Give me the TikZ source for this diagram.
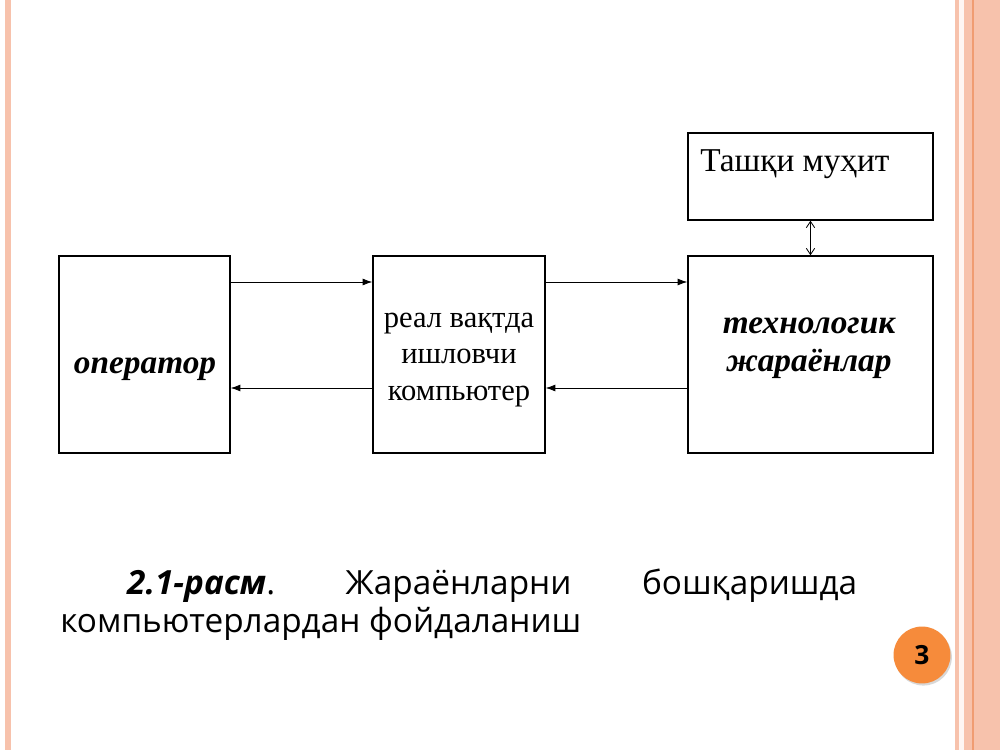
\documentclass[tikz,border=0pt]{standalone}
\usepackage{fontspec}
\setmainfont{Liberation Serif}
\newfontfamily\capfont{Open Sans}
\usetikzlibrary{arrows.meta,shadows}
\definecolor{slidepink}{HTML}{F7C2AC}
\definecolor{slideline}{HTML}{F09C72}
\definecolor{numorange}{HTML}{F68B3B}
\tikzset{
  box/.style={draw, line width=1pt, inner sep=0pt},
  flow/.style={-{Latex[length=7pt,width=5pt]}, line width=0.6pt},
  boldtext/.style={font=\fontsize{24}{27.5}\selectfont\bfseries\itshape, align=center},
}

\begin{document}
\begin{tikzpicture}[x=0.72pt,y=-0.72pt]
                \useasboundingbox (0,0) rectangle (1000,750);
                \fill[white] (0,0) rectangle (1000,750);
                
                \fill[slidepink] (5,0) rectangle (11,750);
                \fill[slidepink] (955,0) rectangle (1000,750);
                \fill[white!85!slidepink] (959,0) rectangle (964,750);
                \fill[slideline] (972,0) rectangle (974,750);
                
                \node[box, minimum width=123.1pt, minimum height=141.8pt] (oper) at (144.5,354.5) {};
                \node[box, minimum width=123.8pt, minimum height=141.8pt] (comp) at (459,354.5) {};
                \node[box, minimum width=176.4pt, minimum height=141.8pt] (tech) at (810.5,354.5) {};
                \node[box, minimum width=176.4pt, minimum height=62.6pt] (env) at (810.5,176.5) {};
                
                \node[boldtext] (opertext) at (145,369) {оператор};
                \node[font=\fontsize{22}{26.6}\selectfont, align=center] (comptext) at (459,360) {реал вақтда\\ишловчи\\компьютер};
                \node[boldtext] (techtext) at (809,348) {технологик\\жараёнлар};
                \node[font=\fontsize{24}{28}\selectfont, anchor=base west, inner sep=0pt] (envtext) at (700,172) {Ташқи муҳит};
                
                \coordinate (fwd) at (0,282);
                \coordinate (back) at (0,388);
                \draw[flow] (oper.east |- fwd) -- (comp.west |- fwd);
                \draw[flow] (comp.east |- fwd) -- (tech.west |- fwd);
                \draw[flow] (tech.west |- back) -- (comp.east |- back);
                \draw[flow] (comp.west |- back) -- (oper.east |- back);
                \draw[{Straight Barb[length=4.5pt,width=6pt]}-{Straight Barb[length=4.5pt,width=6pt]}, line width=0.6pt] (env.south) -- (tech.north);
                
                \node[font=\capfont\fontsize{24}{27}\selectfont, anchor=base west, inner sep=0pt, text width=573.8pt] (capline1) at (60,594)
                    {\hspace*{48.2pt}\textbf{\textit{2.1-расм}}.\hfill Жараёнларни\hfill бошқаришда};
                \node[font=\capfont\fontsize{24}{27}\selectfont, anchor=base west, inner sep=0pt] (capline2) at (60,632) {компьютерлардан фойдаланиш};
                
                \node[circle, fill=numorange, minimum size=41pt, inner sep=0pt,
                      drop shadow={shadow xshift=1pt, shadow yshift=-1.5pt, opacity=0.3}] (pagenum) at (922,655)
                    {\capfont\bfseries\fontsize{19}{20}\selectfont 3};
            \end{tikzpicture}
\end{document}
